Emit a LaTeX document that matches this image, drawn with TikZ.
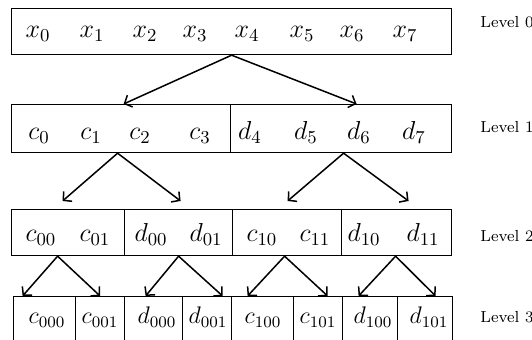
\RequirePackage{fix-cm}
\documentclass[tikz,border=0pt]{standalone}
\usetikzlibrary{arrows.meta,calc}
\begin{document}
\begin{tikzpicture}[
    x=0.5pt,
    y=-0.5pt,
    cell/.style={draw,line width=0.6pt,anchor=north west,inner sep=0pt},
    entry/.style={anchor=base,inner sep=0pt,font=\fontsize{13}{15}\selectfont},
    small entry/.style={entry,font=\fontsize{12}{14}\selectfont},
    lvl/.style={anchor=base west,inner sep=0pt,font=\fontsize{8}{10}\selectfont},
    split/.style={line width=0.75pt,-{Straight Barb[length=3pt,width=6.5pt]}}
]
    \useasboundingbox (0,0) rectangle (532,340);
    \clip (0,0) rectangle (532,340);

    % Level 0
    \node[cell,minimum width=220pt,minimum height=23pt] (lev0) at (11,8) {};
    \foreach \i/\x in {0/38,1/92,2/145,3/195,4/247,5/302,6/352,7/405}
        \node[entry] (x\i) at (\x,38) {$x_\i$};

    % Level 1
    \node[cell,minimum width=109.5pt,minimum height=24pt] (c) at (11,104) {};
    \node[cell,minimum width=110.5pt,minimum height=24pt] (d) at (230,104) {};
    \foreach \i/\x in {0/39,1/91,2/140,3/200}
        \node[entry] (c\i) at (\x,140) {$c_\i$};
    \foreach \i/\x in {4/250,5/306,6/359,7/414}
        \node[entry] (d\i) at (\x,140) {$d_\i$};

    % Level 2
    \node[cell,minimum width=56.5pt,minimum height=23pt] (cc) at (11,209) {};
    \node[cell,minimum width=54pt,minimum height=23pt] (cd) at (124,209) {};
    \node[cell,minimum width=54.5pt,minimum height=23pt] (dc) at (232,209) {};
    \node[cell,minimum width=55pt,minimum height=23pt] (dd) at (341,209) {};
    \foreach \n/\t/\x in {c00/c_{00}/41,c01/c_{01}/95,d00/d_{00}/151,d01/d_{01}/206,
                          c10/c_{10}/262,c11/c_{11}/315,d10/d_{10}/364,d11/d_{11}/423}
        \node[entry] (\n) at (\x,242) {$\t$};

    % Level 3 (bottom edge runs off the picture)
    \foreach \n/\l/\w in {ccc/13/31,ccd/75/24.5,cdc/124/29,cdd/182/24.5,
                          dcc/231/31,dcd/293/24.5,ddc/342/27.5,ddd/397/27.5}
        \node[cell,minimum width=\w pt,minimum height=30pt] (\n) at (\l,296) {};
    \foreach \n/\t/\x in {c000/c_{000}/47,c001/c_{001}/100,d000/d_{000}/157,d001/d_{001}/208,
                          c100/c_{100}/263,c101/c_{101}/318,d100/d_{100}/373,d101/d_{101}/429}
        \node[small entry] (\n) at (\x,324) {$\t$};

    % Splits
    \foreach \p/\pdx/\q/\qdx/\qdy in {lev0/0/c/2.5/0,lev0/0/d/15.5/0,
                                      c/-3.5/cc/-5.5/-8,c/-3.5/cd/2/-8,
                                      d/2.5/dc/0.5/-8,d/2.5/dd/12/-8,
                                      cc/-10.5/ccc/-22/0,cc/-10.5/ccd/0/0,
                                      cd/0/cdc/-8/0,cd/0/cdd/15.5/0,
                                      dc/-2.5/dcc/-15/0,dc/-2.5/dcd/9.5/0,
                                      dd/-1/ddc/-11.5/0,dd/-1/ddd/10.5/0}
        \draw[split] ($(\p.south)+(\pdx,0)$) -- ($(\q.north)+(\qdx,\qdy)$);

    % Level names
    \node[lvl] (lab0) at (480,28) {Level 0};
    \node[lvl] (lab1) at (480,133) {Level 1};
    \node[lvl] (lab2) at (480,242) {Level 2};
    \node[lvl] (lab3) at (480,323) {Level 3};
\end{tikzpicture}
\end{document}
